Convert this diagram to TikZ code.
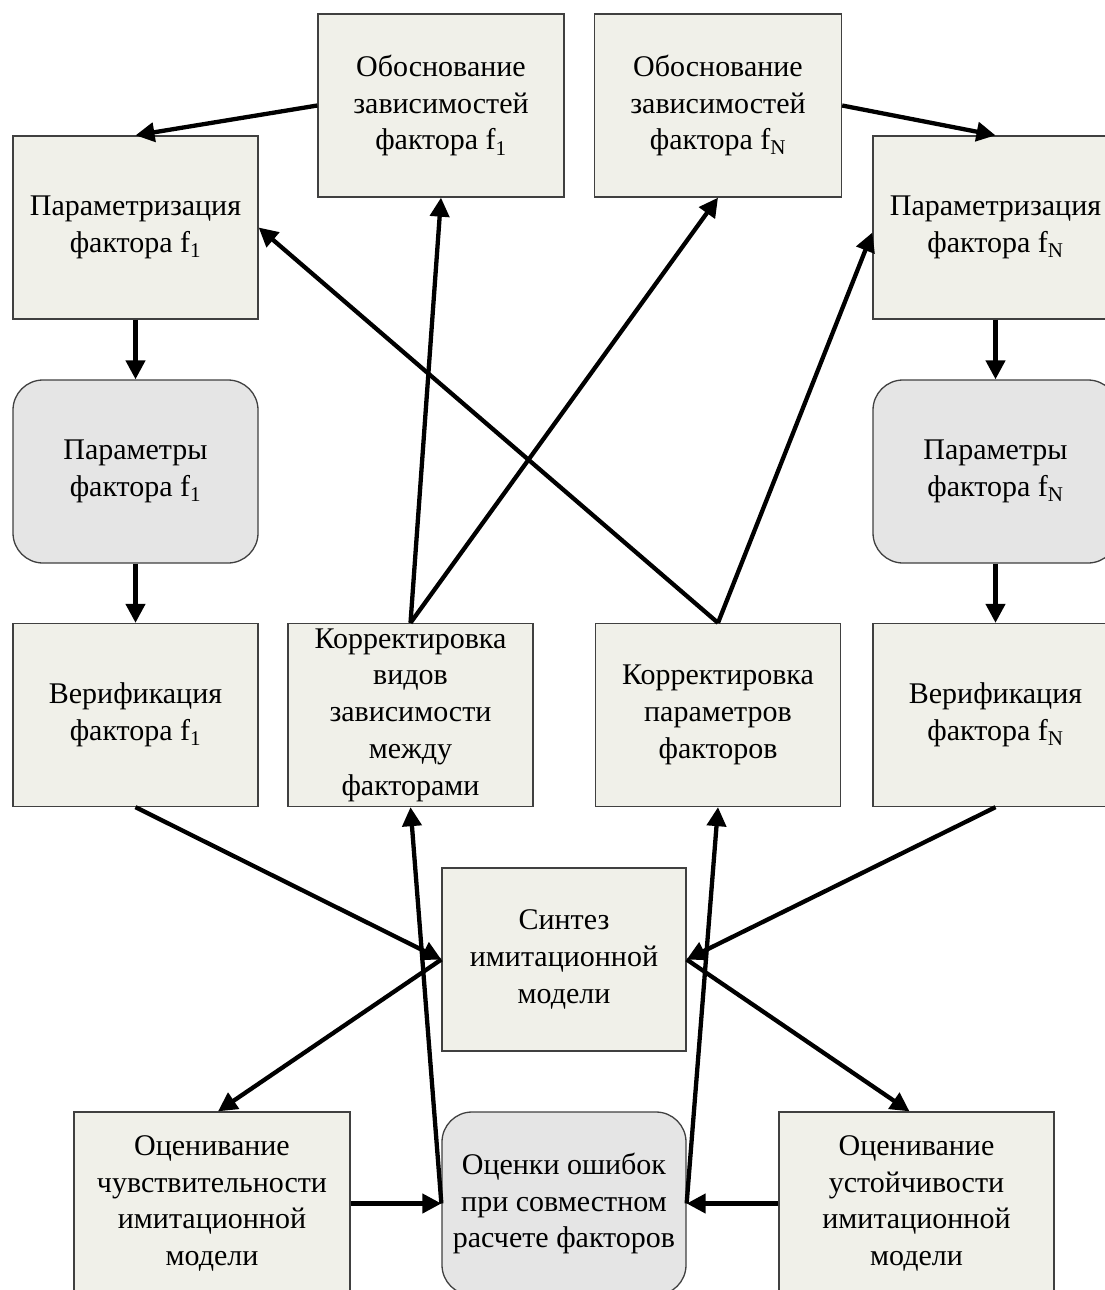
\documentclass[tikz,border=0pt]{standalone}
\usepackage{fontspec}
\setmainfont{Liberation Serif}
\usetikzlibrary{arrows.meta,calc}
\definecolor{boxfill}{RGB}{240,240,233}
\definecolor{roundfill}{RGB}{229,229,229}
\definecolor{boxline}{RGB}{64,64,64}
\tikzset{
  stepbox/.style={draw=boxline, line width=1.3pt, fill=boxfill, rectangle,
    minimum width=245pt, minimum height=183pt, inner sep=0pt, align=center,
    font=\fontsize{30}{36.7}\selectfont},
  roundbox/.style={stepbox, fill=roundfill, rounded corners=30pt},
  conn/.style={line width=4.3pt, -{Triangle[length=19pt,width=19pt]}},
  plainline/.style={line width=4.3pt}
}
\begin{document}
\begin{tikzpicture}[x=1pt,y=-1pt]
\useasboundingbox (0,0) rectangle (1105,1290);
\clip (0,0) rectangle (1105,1290);
% nodes
\node[stepbox, minimum width=246pt] (ob1) at (441,105.5) {Обоснование\\зависимостей\\фактора f\textsubscript{1}};
\node[stepbox, minimum width=247pt] (obN) at (718,105.5) {Обоснование\\зависимостей\\фактора f\textsubscript{N}};
\node[stepbox] (par1) at (135.5,227.5) {Параметризация\\фактора f\textsubscript{1}};
\node[stepbox] (parN) at (995.5,227.5) {Параметризация\\фактора f\textsubscript{N}};
\node[roundbox] (pm1) at (135.5,471.5) {Параметры\\фактора f\textsubscript{1}};
\node[roundbox] (pmN) at (995.5,471.5) {Параметры\\фактора f\textsubscript{N}};
\node[stepbox] (ver1) at (135.5,715) {Верификация\\фактора f\textsubscript{1}};
\node[stepbox] (korV) at (410.5,715) {Корректировка\\видов\\зависимости\\между\\факторами};
\node[stepbox] (korP) at (718,715) {Корректировка\\параметров\\факторов};
\node[stepbox] (verN) at (995.5,715) {Верификация\\фактора f\textsubscript{N}};
\node[stepbox, minimum width=244pt] (syn) at (564,959.5) {Синтез\\имитационной\\модели};
\node[stepbox, minimum width=276pt] (och) at (212,1203.5) {Оценивание\\чувствительности\\имитационной\\модели};
\node[roundbox, minimum width=244pt] (oce) at (564,1203.5) {Оценки ошибок\\при совместном\\расчете факторов};
\node[stepbox, minimum width=275pt] (ocu) at (916.5,1203.5) {Оценивание\\устойчивости\\имитационной\\модели};
% connectors
\draw[conn] (ob1.west) -- (par1.north);
\draw[conn] (obN.east) -- (parN.north);
\draw[conn] (par1.south) -- (pm1.north);
\draw[conn] (pm1.south) -- (ver1.north);
\draw[conn] (parN.south) -- (pmN.north);
\draw[conn] (pmN.south) -- (verN.north);
\draw[conn] (korV.north) -- (ob1.south);
\draw[conn] (korV.north) -- (obN.south);
\draw[conn] (korP.north) -- (par1.east);
\draw[conn] (korP.north) -- ($(parN.west)+(0,5)$);
\draw[conn] (ver1.south) -- (syn.west);
\draw[conn] (verN.south) -- (syn.east);
\draw[conn] (syn.west) -- ($(och.north)+(6,0)$);
\draw[conn] (syn.east) -- ($(ocu.north)+(-7,0)$);
\draw[conn] (oce.west) -- (korV.south);
\draw[conn] (oce.east) -- (korP.south);
\draw[conn] (och.east) -- (oce.west);
\draw[conn] (ocu.west) -- (oce.east);
\end{tikzpicture}
\end{document}
